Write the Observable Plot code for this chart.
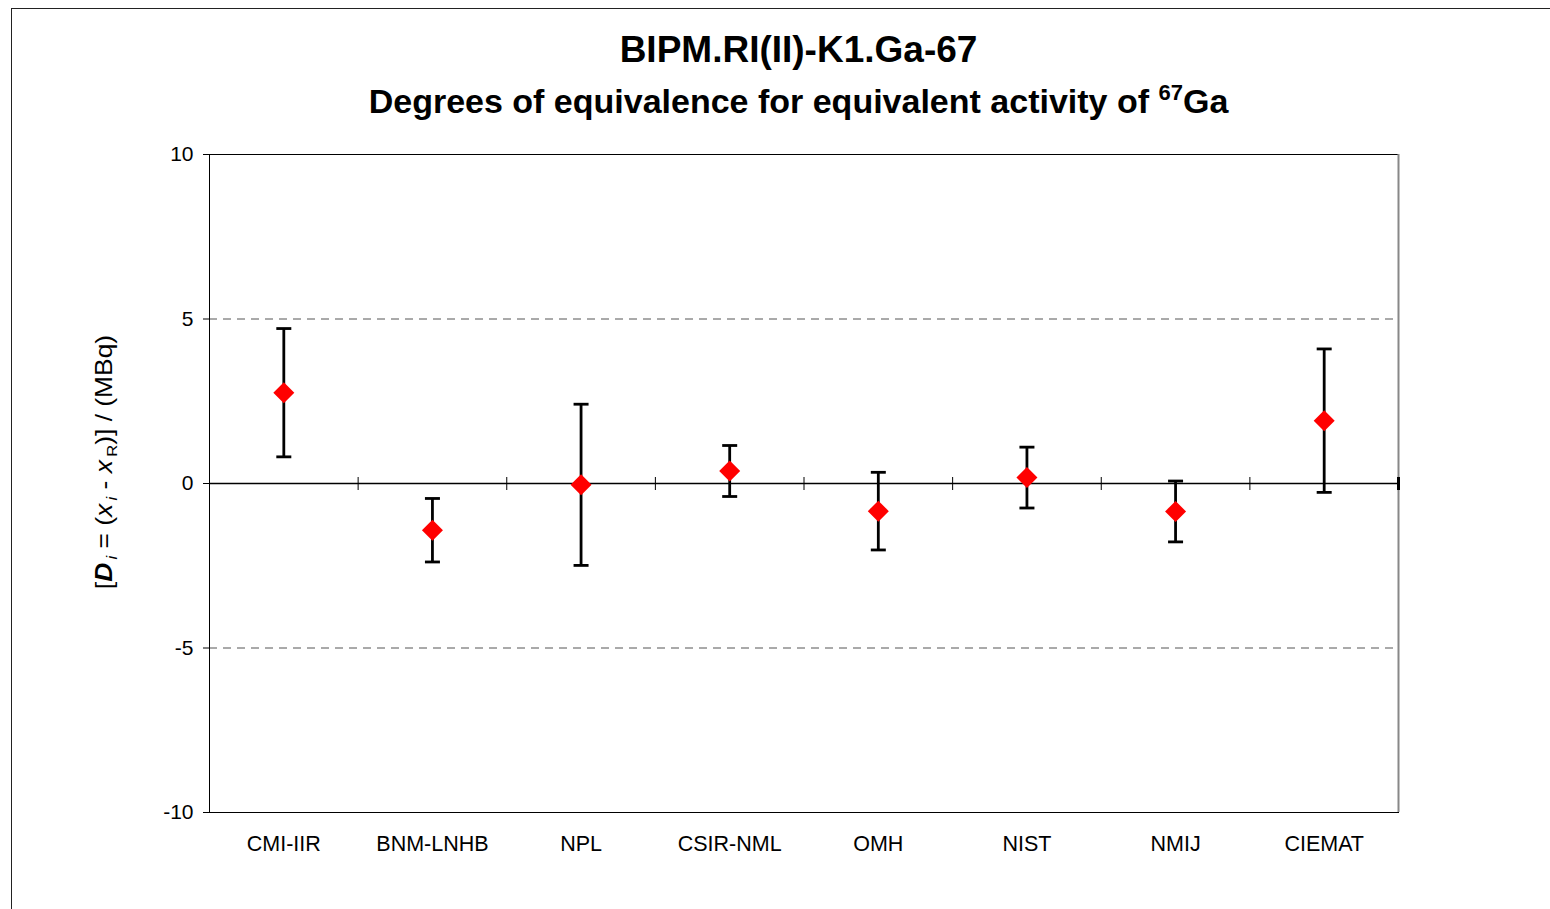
<!DOCTYPE html>
<html>
<head>
<meta charset="utf-8">
<script src="https://cdn.jsdelivr.net/npm/d3@7"></script>
<script src="https://cdn.jsdelivr.net/npm/@observablehq/plot@0.6"></script>
<style>
  html, body { margin: 0; padding: 0; background: #fff; }
  body { width: 1550px; height: 909px; position: relative; overflow: hidden; font-family: "Liberation Sans", Arial, sans-serif; }
  #border { position: absolute; left: 11px; top: 8px; width: 1560px; height: 920px; border: 1.5px solid #222; box-sizing: border-box; }
  #chart { position: absolute; left: 0; top: 0; }
  .title { position: absolute; left: 0; width: 1597px; text-align: center; font-weight: bold; color: #000; white-space: nowrap; }
  #t1 { top: 29px; font-size: 37px; }
  #t2 { top: 81px; font-size: 34px; }
  #t2 sup { font-size: 22px; position: relative; top: -1px; }
  #ylab { position: absolute; left: 105px; top: 462px; transform: translate(-50%, -50%) rotate(-90deg) scaleX(1.1); font-size: 24px; white-space: nowrap; color: #000; }
  #ylab sub { font-size: 15px; }
</style>
</head>
<body>
<div id="border"></div>
<div id="chart"></div>
<div class="title" id="t1">BIPM.RI(II)-K1.Ga-67</div>
<div class="title" id="t2">Degrees of equivalence for equivalent activity of <sup>67</sup>Ga</div>
<div id="ylab">[<b><i>D</i></b><sub><i>&#8201;i</i></sub> = (<i>x</i><sub><i>&#8201;i</i></sub> - <i>x</i><sub>&#8201;R</sub>)] / (MBq)</div>
<script>
const categories = ["CMI-IIR", "BNM-LNHB", "NPL", "CSIR-NML", "OMH", "NIST", "NMIJ", "CIEMAT"];
const values = [2.76, -1.42, -0.04, 0.38, -0.84, 0.18, -0.85, 1.91];
const uncertainties = [1.95, 0.965, 2.45, 0.775, 1.18, 0.925, 0.925, 2.18];
const yTicks = [-10, -5, 0, 5, 10];
const gridLevels = [-5, 5];

const data = categories.map((c, i) => ({
  lab: c, v: values[i], lo: values[i] - uncertainties[i], hi: values[i] + uncertainties[i]
}));

const W = 1550, H = 909, mL = 209, mR = 152, mT = 154, mB = 97;
const bw = (W - mL - mR) / categories.length;

const diamond = { draw(ctx, size) { const r = Math.sqrt(size / Math.PI); ctx.moveTo(0, -r); ctx.lineTo(r, 0); ctx.lineTo(0, r); ctx.lineTo(-r, 0); ctx.closePath(); } };
const hline = { draw(ctx, size) { const r = Math.sqrt(size / Math.PI); ctx.moveTo(-r, 0); ctx.lineTo(r, 0); } };
const vline = { draw(ctx, size) { const r = Math.sqrt(size / Math.PI); ctx.moveTo(0, -r); ctx.lineTo(0, r); } };

const chart = Plot.plot({
  width: W, height: H,
  marginLeft: mL, marginRight: mR, marginTop: mT, marginBottom: mB,
  style: { fontFamily: "'Liberation Sans', Arial, sans-serif", fontSize: "21px", color: "#000", background: "transparent" },
  x: { type: "band", domain: categories, padding: 0, round: false, label: null },
  y: { domain: [-10, 10], label: null },
  marks: [
    Plot.ruleY(gridLevels, { stroke: "#555", strokeWidth: 1, strokeDasharray: "8,6" }),
    Plot.ruleY([0], { stroke: "#000", strokeWidth: 1.3 }),
    Plot.frame({ stroke: "#000", strokeWidth: 1 }),
    Plot.ruleX(categories.slice(-1), { x: d => d, dx: bw / 2, stroke: "#888", strokeWidth: 2 }),
    Plot.dot(categories.slice(0, -1), { x: d => d, y: () => 0, symbol: vline, r: 6.5, stroke: "#000", strokeWidth: 1, dx: bw / 2 }),
    Plot.dot(categories.slice(-1), { x: d => d, y: () => 0, symbol: vline, r: 6.5, stroke: "#000", strokeWidth: 3, dx: bw / 2 }),
    Plot.axisY({ ticks: yTicks, tickSize: 6, tickPadding: 10, tickFormat: d => String(d), fontSize: 21 }),
    Plot.axisX({ tickSize: 0, tickPadding: 23, fontSize: 21.5 }),
    Plot.ruleX(data, { x: "lab", y1: "lo", y2: "hi", stroke: "#000", strokeWidth: 2.8 }),
    Plot.dot(data, { x: "lab", y: "lo", symbol: hline, r: 7.5, stroke: "#000", strokeWidth: 2.8, fill: "none" }),
    Plot.dot(data, { x: "lab", y: "hi", symbol: hline, r: 7.5, stroke: "#000", strokeWidth: 2.8, fill: "none" }),
    Plot.dot(data, { x: "lab", y: "v", symbol: diamond, r: 10.5, fill: "#ff0000", stroke: "none" })
  ]
});
document.getElementById("chart").appendChild(chart);
</script>
</body>
</html>
